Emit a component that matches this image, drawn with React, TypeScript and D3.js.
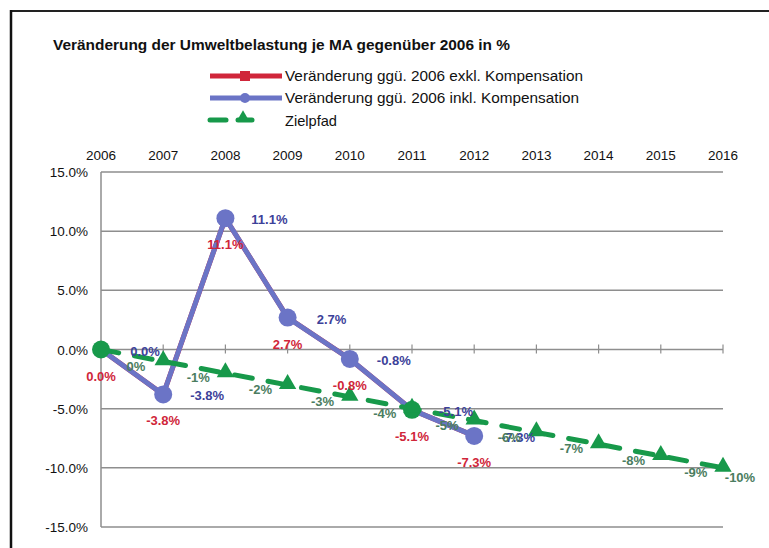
import * as d3 from 'd3';

const years = ['2006', '2007', '2008', '2009', '2010', '2011', '2012', '2013', '2014', '2015', '2016'];
const exklValues = [0.0, -3.8, 11.1, 2.7, -0.8, -5.1, -7.3];
const inklValues = [0.0, -3.8, 11.1, 2.7, -0.8, -5.1, -7.3];
const zielValues = [0, -1, -2, -3, -4, -5, -6, -7, -8, -9, -10];
const yTicks = [15, 10, 5, 0, -5, -10, -15];
const legendLabels = [
    'Veränderung ggü. 2006 exkl. Kompensation',
    'Veränderung ggü. 2006 inkl. Kompensation',
    'Zielpfad',
];

const RED = '#d0263a';
const BLUE = '#6b74c6';
const GREEN = '#17994a';
const font = 'Arial, "Liberation Sans", sans-serif';

const App = () => {
    const x = d3.scalePoint<string>().domain(years).range([101, 723]);
    const y = d3.scaleLinear().domain([-15, 15]).range([527, 172]);

    const line = d3.line<number>()
        .x((_, i) => x(years[i]) as number)
        .y(d => y(d));

    const tri = d3.symbol().type(d3.symbolTriangle).size(130)() as string;
    const legTri = d3.symbol().type(d3.symbolTriangle).size(80)() as string;

    // blue markers at 2006 and 2011 are coloured green in the original
    const blueMarker = (i: number) => (i === 0 || i === 5 ? GREEN : BLUE);

    // green labels sit right-below their point, pushed back at the right edge
    const zielLabelPos = (i: number, v: number) => {
        const px = x(years[i]) as number;
        const lx = Math.min(px + 35, 740);
        const ly = lx < px + 35 ? y(v) + 14 : y(v) + 21;
        return [lx, ly];
    };

    return (
        <svg width={769} height={548} style={{ position: 'absolute', left: 0, top: 0, background: '#fff' }}>
            {/* frame */}
            <line x1={10} x2={769} y1={11} y2={11} stroke="#222" strokeWidth={2} />
            <line x1={11} x2={11} y1={10} y2={548} stroke="#111" strokeWidth={2.5} />

            <text x={53} y={50} fontFamily={font} fontWeight="bold" fontSize={15}
                textLength={457} lengthAdjust="spacingAndGlyphs" fill="#111">
                Veränderung der Umweltbelastung je MA gegenüber 2006 in %
            </text>

            {/* legend */}
            <g>
                <line x1={210} x2={282} y1={76} y2={76} stroke={RED} strokeWidth={5} />
                <rect x={240} y={71} width={10} height={10} fill={RED} />
                <text x={285} y={81} fontFamily={font} fontSize={15} textLength={298}
                    lengthAdjust="spacingAndGlyphs" fill="#111">{legendLabels[0]}</text>

                <line x1={210} x2={282} y1={98} y2={98} stroke={BLUE} strokeWidth={5} />
                <circle cx={245} cy={98} r={5} fill={BLUE} />
                <text x={285} y={103} fontFamily={font} fontSize={15} textLength={294}
                    lengthAdjust="spacingAndGlyphs" fill="#111">{legendLabels[1]}</text>

                <line x1={210} x2={226} y1={120} y2={120} stroke={GREEN} strokeWidth={5} strokeLinecap="round" />
                <line x1={238} x2={252} y1={120} y2={120} stroke={GREEN} strokeWidth={5} strokeLinecap="round" />
                <path d={legTri} transform="translate(243,118)" fill={GREEN} />
                <text x={285} y={126} fontFamily={font} fontSize={15} textLength={52}
                    lengthAdjust="spacingAndGlyphs" fill="#111">{legendLabels[2]}</text>
            </g>

            {/* year labels on top */}
            {years.map(yr => (
                <text key={yr} x={x(yr)} y={160} textAnchor="middle" fontFamily={font}
                    fontSize={13.5} fill="#111">{yr}</text>
            ))}

            {/* grid and axes */}
            {yTicks.map(t => (
                <g key={t}>
                    <line x1={101} x2={723} y1={y(t)} y2={y(t)} stroke="#8e8e8e" strokeWidth={1.5} />
                    <text x={88} y={y(t) + 5} textAnchor="end" fontFamily={font} fontSize={13.5}
                        fill="#111">{t.toFixed(1)}%</text>
                </g>
            ))}
            <line x1={101} x2={101} y1={y(15)} y2={y(-15)} stroke="#8e8e8e" strokeWidth={1.5} />
            {years.map(yr => (
                <line key={yr} x1={x(yr)} x2={x(yr)} y1={y(0) - 5} y2={y(0) + 4} stroke="#8e8e8e" strokeWidth={1.2} />
            ))}

            {/* exkl. Kompensation (red) */}
            <path d={line(exklValues) as string} fill="none" stroke={RED} strokeWidth={5} />
            {exklValues.map((v, i) => (
                <rect key={i} x={(x(years[i]) as number) - 5} y={y(v) - 5} width={10} height={10} fill={RED} />
            ))}

            {/* inkl. Kompensation (blue) */}
            <path d={line(inklValues) as string} fill="none" stroke={BLUE} strokeWidth={5} strokeLinejoin="round" />
            {inklValues.map((v, i) => (
                <circle key={i} cx={x(years[i])} cy={y(v)} r={9} fill={blueMarker(i)} />
            ))}

            {/* Zielpfad (green dashed) */}
            <path d={line(zielValues) as string} fill="none" stroke={GREEN} strokeWidth={5}
                strokeDasharray="18 16" strokeLinecap="round" />
            {zielValues.map((v, i) => i === 0 ? null : (
                <path key={i} d={tri} transform={`translate(${x(years[i])},${y(v) - 1})`} fill={GREEN} />
            ))}

            {/* data labels */}
            {exklValues.map((v, i) => (
                <text key={'r' + i} x={x(years[i])} y={y(v) + 31} textAnchor="middle" fontFamily={font}
                    fontWeight="bold" fontSize={13} fill={RED}>{v.toFixed(1)}%</text>
            ))}
            {inklValues.map((v, i) => (
                <text key={'b' + i} x={(x(years[i]) as number) + 44} y={y(v) + 6} textAnchor="middle" fontFamily={font}
                    fontWeight="bold" fontSize={13} fill="#3c4199">{v.toFixed(1)}%</text>
            ))}
            {zielValues.map((v, i) => {
                const [lx, ly] = zielLabelPos(i, v);
                return (
                    <text key={'g' + i} x={lx} y={ly} textAnchor="middle" fontFamily={font}
                        fontWeight="bold" fontSize={13} fill="#4b7d60">{v}%</text>
                );
            })}
        </svg>
    );
};

export default App;
